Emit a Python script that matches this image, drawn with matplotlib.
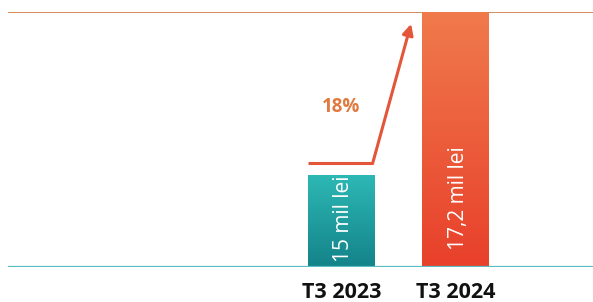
import numpy as np
import matplotlib
matplotlib.use("Agg")
import matplotlib.pyplot as plt
from matplotlib.colors import LinearSegmentedColormap

categories = ["T3 2023", "T3 2024"]
values = [15.0, 17.2]
value_labels = ["15 mil lei", "17,2 mil lei"]
growth_label = "18%"

plt.rcParams['font.family'] = ['Open Sans', 'DejaVu Sans']

W, H = 593, 302
fig = plt.figure(figsize=(W / 100, H / 100), dpi=100)
ax = fig.add_axes([8 / W, (H - 267) / H, (W - 8) / W, (267 - 12) / H])

ybottom = 13.76
ax.set_ylim(ybottom, 17.2)
ax.set_xlim(-2.913, 2.197)

x = np.arange(len(categories))
width = 0.585
gradients = [("#2db8b4", "#14838a"), ("#f07a4c", "#e8402b")]

bars = ax.bar(x, [v - ybottom for v in values], width=width, bottom=ybottom,
              color="none", edgecolor="none", zorder=2)
grad = np.linspace(0, 1, 256).reshape(-1, 1)
for b, (ctop, cbot) in zip(bars, gradients):
    cmap = LinearSegmentedColormap.from_list("g", [ctop, cbot])
    x0, y0 = b.get_x(), b.get_y()
    w, h = b.get_width(), b.get_height()
    ax.imshow(grad, cmap=cmap, aspect="auto", extent=[x0, x0 + w, y0, y0 + h],
              origin="upper", zorder=2, interpolation="bilinear")

label_pads = [0.07, 0.23]
for xi, lab, pad in zip(x, value_labels, label_pads):
    ax.text(xi + 0.02, ybottom + pad, lab, rotation=90, ha="center", va="bottom",
            color="white", fontsize=15, zorder=4)

# baseline and top line
ax.axhline(ybottom, color="#5bbdc0", lw=1.6, zorder=3)
ax.axhline(17.2, color="#d38a5c", lw=1.4, zorder=1)

# growth arrow
acol = "#e4563a"
y_h = values[0] + 0.16
xl = x[0] - width / 2
xr = x[0] + width / 2 - 0.02
ax.plot([xl, xr], [y_h, y_h], color=acol, lw=2.2, solid_capstyle="butt", zorder=3)
ax.annotate("", xy=(x[1] - width / 2 - 0.1, 17.04), xytext=(xr, y_h),
            arrowprops=dict(arrowstyle="-|>", color=acol, lw=2.2,
                            mutation_scale=16, shrinkA=0, shrinkB=0), zorder=3)
ax.text(x[0], 15.92, growth_label, ha="center", va="center", color="#e07a40",
        fontsize=13.5, fontweight="bold")

ax.set_xticks(x)
ax.set_xticklabels(categories, fontsize=15.5, fontweight="bold", color="#111111")
ax.tick_params(axis="x", length=0, pad=11)
ax.set_yticks([])
for s in ax.spines.values():
    s.set_visible(False)

fig.savefig("out.png", dpi=100)
